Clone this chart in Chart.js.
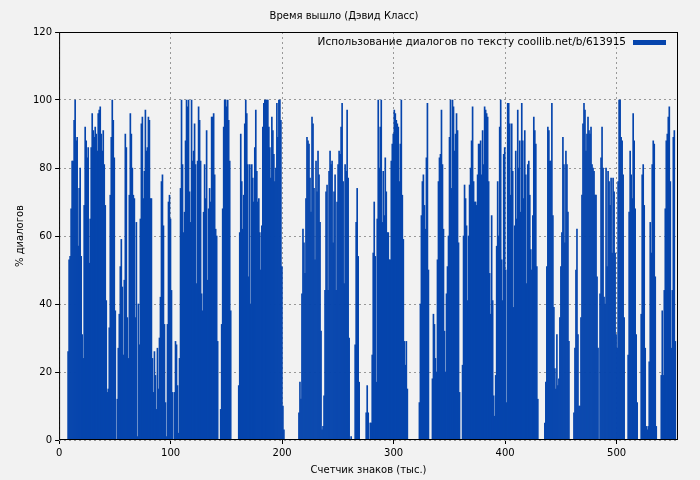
<!DOCTYPE html>
<html><head><meta charset="utf-8">
<script src="https://cdn.jsdelivr.net/npm/chart.js@4"></script>
<style>html,body{margin:0;background:#f2f2f2}#w{width:700px;height:480px}</style>
</head><body><div id="w"><canvas id="c"></canvas></div>
<script>
const binK = 0.9;
const lead = [0,0,0,0,0,0,0,0,0];
const part1 = [26,53,54,68,82,82,94,100,88,89,57,74,80,54,31,24,69,92,88,83,86,52,65,86,96,91,89,92,90,85,96,97,98,90,85,91,81,69,41,14,15,33,72,89,100,94,83,38,0,12,27,37,51,59,45,25,47,90,86,36,24,72,96,90,80,72,71,36,64,1,40,28,65,93,95,71,79,97,85,86,95,94,71,71,24,14,26,19,9,27,15,30,42,76];
const part2 = [78,63,34,11,1,34,70,72,65,44,14,0,14,29,28,16,2,24,74,100,81,61,67,88,100,98,100,73,64,100,82,85,93,81,46,82,98,94,82,43,38,67,81,71,91,47,68,74,70,95,95,96,78,62,60,29,0,0,9,34,68,92,100,100,98,100,94,82,38,0,0,0,0,0,0,0,16,61,90,76,62,72,93,100,96,81,48,81,40,81,77,70,86,97,79,70,71,61,50,63,92,99,100,100];
const part3 = [100,100,92,86,77,95,91,84,76,80,99,89,100,100,94,51,10,3,0,0,0,0,0,0,0,0,0,0,0,0,0,0,8,17,12,43,62,58,49,71,89,88,87,77,67,95,93,74,53,82,73,85,78,64,32,3,4,13,44,73,75,44,79,85,81,82,58,73,78,44,70,81,85,84,92,99,76,46,81,79,97,77,30,0,1,0,0,0,28,64,74,54,17,0,0,0,0,0,0,8,16,8,0,5];
const part4 = [5,25,55,70,54,17,65,100,80,92,100,64,79,66,83,73,61,61,53,53,82,87,90,97,96,94,93,92,76,87,100,72,59,29,22,29,15,0,0,0,0,0,0,0,0,0,0,0,11,40,66,76,78,69,62,83,99,50,0,0,0,18,37,34,24,20,53,76,83,84,97,81,62,32,20,43,51,60,89,100,74,100,98,85,90,96,91,58,14,0,0,22,60,75,71,63,41,60,75,80,88,98,76,70];
const part5 = [70,69,78,87,87,88,78,91,81,98,97,96,95,76,49,37,66,41,13,7,19,57,76,60,92,100,53,41,84,86,50,11,99,99,93,72,93,79,39,63,85,65,97,80,88,67,99,88,71,91,78,46,81,82,72,56,50,66,95,91,87,51,12,0,0,0,0,0,0,5,17,51,92,91,82,82,99,66,39,21,15,31,16,18,36,51,61,89,81,58,85,81,67,29,0,0,0,0,8,27,50,62,31,10];
const part6 = [10,36,72,93,99,97,85,90,95,91,90,92,81,80,79,72,72,48,27,0,43,83,92,80,42,40,80,51,79,76,69,77,55,77,73,55,31,27,76,100,100,89,88,78,36,0,0,0,25,67,85,78,71,96,88,68,31,11,0,0,0,37,78,81,69,27,4,3,4,23,64,55,81,88,87,48,4,0,0,0,0,19,38,19,44,68,88,90,95,98,76,27,44,89,91,29];
const values = [].concat(lead, part1, part2, part3, part4, part5, part6);
const xTicks = [0,100,200,300,400,500];
const yTicks = [0,20,40,60,80,100,120];
const title = 'Время вышло (Дэвид Класс)';
const legendText = 'Использование диалогов по тексту coollib.net/b/613915';
const pts = values.map((v,i)=>({x:i*binK, y:v}));

const legendPlugin = {id:'lg', afterDraw(ch){
  const c=ch.ctx, a=ch.chartArea;
  c.save();
  c.font='10.5px "DejaVu Sans"'; c.fillStyle='#000'; c.textAlign='right'; c.textBaseline='middle';
  c.fillText(legendText, a.right-52, a.top+10);
  c.fillStyle='#0645ad'; c.fillRect(a.right-45, a.top+8, 33, 5);
  c.strokeStyle='#000'; c.lineWidth=1; c.strokeRect(a.left+0.5,a.top+0.5,a.right-a.left-1,a.bottom-a.top-1);
  c.restore();
}};
const bg={id:'bg',beforeDraw(ch){const c=ch.ctx;c.save();c.fillStyle='#f2f2f2';c.fillRect(0,0,ch.width,ch.height);c.restore();}};

new Chart(document.getElementById('c'),{
  type:'bar',
  data:{datasets:[{data:pts,backgroundColor:'#0645ad',barPercentage:1,categoryPercentage:1,borderWidth:0}]},
  options:{
    responsive:true,maintainAspectRatio:false,animation:false,
    layout:{padding:{left:10,right:22,top:0,bottom:0}},
    plugins:{legend:{display:false},tooltip:{enabled:false},
      title:{display:true,text:title,color:'#000',font:{family:'DejaVu Sans',size:10,weight:'normal'},padding:{top:10,bottom:10}}},
    scales:{
      x:{type:'linear',min:0,max:555,offset:false,
        afterBuildTicks(s){s.ticks=xTicks.map(v=>({value:v}));},
        ticks:{color:'#000',font:{family:'DejaVu Sans',size:10},maxRotation:0},
        grid:{color:'#999',offset:false,drawTicks:true,tickLength:4,tickColor:'#000'},
        border:{display:false,dash:[2,3]},
        title:{display:true,text:'Счетчик знаков (тыс.)',color:'#000',font:{family:'DejaVu Sans',size:10},padding:{top:2}}},
      y:{min:0,max:120,
        afterBuildTicks(s){s.ticks=yTicks.map(v=>({value:v}));},
        ticks:{color:'#000',font:{family:'DejaVu Sans',size:10}},
        grid:{color:'#999',tickLength:4,tickColor:'#000'},
        border:{display:false,dash:[2,3]},
        title:{display:true,text:'% диалогов',color:'#000',font:{family:'DejaVu Sans',size:10}}}
    }
  },
  plugins:[bg,legendPlugin]
});
</script></body></html>
